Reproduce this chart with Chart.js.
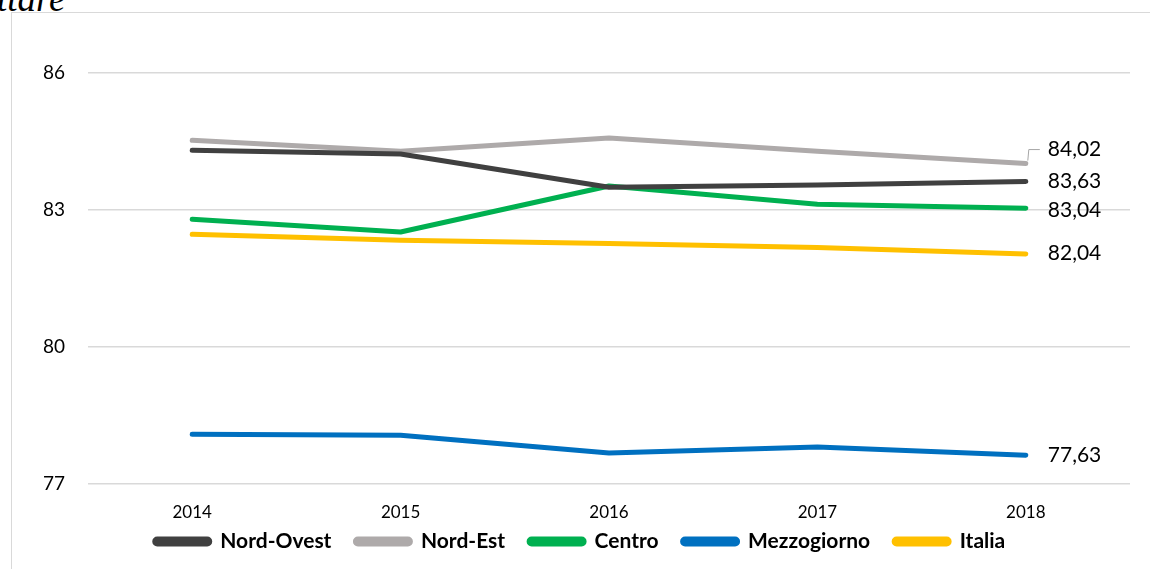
<!DOCTYPE html>
<html>
<head>
<meta charset="utf-8">
<script src="https://cdn.jsdelivr.net/npm/chart.js@4.4.0/dist/chart.umd.min.js"></script>
<style>
  html,body{margin:0;padding:0;background:#fff;overflow:hidden}
  #wrap{position:relative;width:1150px;height:569px}
  #frame{position:absolute;left:11px;top:12px;width:1200px;height:600px;border-left:1.5px solid #d9d9d9;border-top:1.5px solid #d9d9d9}
  #cap{position:absolute;left:-3px;top:-23px;font-family:"Liberation Serif","DejaVu Serif",serif;font-style:italic;font-size:37px;color:#000}
  #c{position:absolute;left:0;top:0}
</style>
</head>
<body>
<div id="wrap">
  <div id="frame"></div>
  <div id="cap">ttare</div>
  <canvas id="c" width="1150" height="569"></canvas>
</div>
<script>
const years = ['2014','2015','2016','2017','2018']
const nordOvest   = [84.31, 84.23, 83.50, 83.55, 83.63]
const nordEst     = [84.53, 84.29, 84.58, 84.29, 84.02]
const centro      = [82.80, 82.52, 83.53, 83.13, 83.04]
const mezzogiorno = [78.09, 78.07, 77.68, 77.81, 77.63]
const italia      = [82.47, 82.34, 82.27, 82.18, 82.04]
const yTicks = [77, 80, 83, 86]
const endLabels = ['83,63','84,02','83,04','77,63','82,04']

const FONT = 'Lato, "Liberation Sans", sans-serif'

function ds(label, data, color){
  return {label, data, borderColor:color, backgroundColor:color, borderWidth:5,
    pointRadius:0, tension:0, borderCapStyle:'round', borderJoinStyle:'round'}
}

// last-point value labels, Nord-Est shifted up with a small leader line
const endLabelPlugin = {
  id:'endLabels',
  afterDatasetsDraw(chart){
    const ctx = chart.ctx
    ctx.save()
    ctx.font = '21px ' + FONT
    ctx.fillStyle = '#000'
    ctx.textBaseline = 'middle'
    chart.data.datasets.forEach((d,i)=>{
      const pt = chart.getDatasetMeta(i).data[d.data.length-1]
      let dy = 0
      if(i===1) dy = -14
      if(i===2) dy = 2
      if(i===4) dy = -1
      if(i===1){
        ctx.strokeStyle = '#a6a6a6'; ctx.lineWidth = 1
        ctx.beginPath()
        ctx.moveTo(pt.x+2, pt.y-3); ctx.lineTo(pt.x+3, pt.y+dy); ctx.lineTo(pt.x+14, pt.y+dy)
        ctx.stroke()
      }
      ctx.fillText(endLabels[i], pt.x+22, pt.y+dy)
    })
    ctx.restore()
  }
}

// nudge the legend row up so it sits close under the year labels
const legendShift = {
  id:'legendShift',
  afterLayout(chart){
    if(chart.legend){ chart.legend.top -= 19; chart.legend.bottom -= 19 }
  }
}

new Chart(document.getElementById('c').getContext('2d'), {
  type:'line',
  data:{
    labels:years,
    datasets:[
      ds('Nord-Ovest', nordOvest, '#404040'),
      ds('Nord-Est', nordEst, '#aeaaaa'),
      ds('Centro', centro, '#00b050'),
      ds('Mezzogiorno', mezzogiorno, '#0070c0'),
      ds('Italia', italia, '#ffc000')
    ]
  },
  options:{
    responsive:false,
    animation:false,
    layout:{padding:{left:30, right:20, top:0, bottom:-12}},
    plugins:{
      tooltip:{enabled:false},
      legend:{
        position:'bottom',
        labels:{
          color:'#000', boxWidth:55, boxHeight:5, useBorderRadius:true, borderRadius:2.5,
          padding:24, font:{family:FONT, size:21, weight:'bold'}
        }
      }
    },
    scales:{
      x:{
        offset:true,
        grid:{display:false, drawTicks:false},
        border:{display:false},
        ticks:{color:'#000', padding:18, font:{family:FONT, size:17}},
        afterFit(s){ s.height = 42 }
      },
      y:{
        min:77, max:86.85,
        afterBuildTicks(a){ a.ticks = yTicks.map(v=>({value:v})) },
        grid:{color:'#d9d9d9', lineWidth:1.5, drawTicks:false},
        border:{display:false},
        ticks:{color:'#000', padding:23, font:{family:FONT, size:19}},
        afterFit(s){ s.width = 58 }
      }
    }
  },
  plugins:[endLabelPlugin, legendShift]
})
</script>
</body>
</html>
